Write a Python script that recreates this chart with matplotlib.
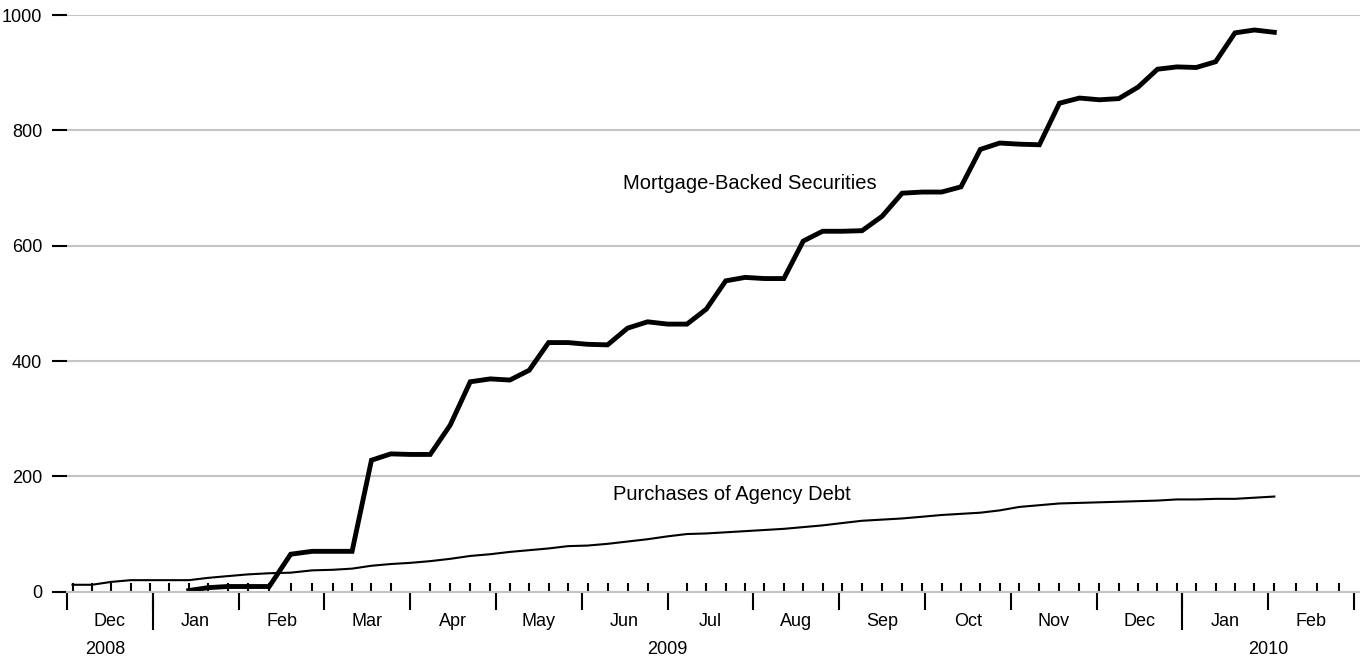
import numpy as np
import pandas as pd
import matplotlib
matplotlib.use('Agg')
import matplotlib.pyplot as plt
from matplotlib.transforms import ScaledTranslation

plt.rcParams['font.family'] = ['Liberation Sans', 'DejaVu Sans']

# weekly (Wednesday) levels, billions of dollars
agency_dates = pd.date_range('2008-12-03', '2010-02-03', freq='W-WED')
agency_debt = [12, 12, 17, 20, 20,
               20, 20, 24, 27, 30, 32, 33, 37, 38, 40, 45, 48,
               50, 53, 57, 62, 65, 69, 72, 75, 79, 80, 83, 87, 91,
               96, 100, 101, 103, 105, 107, 109, 112, 115,
               119, 123, 125, 127, 130, 133, 135, 137, 141,
               147, 150, 153, 154, 155, 156, 157, 158, 160,
               160, 161, 161, 163, 165]

mbs_dates = pd.date_range('2009-01-14', '2010-02-03', freq='W-WED')
mbs = [2, 7, 9, 9, 9, 65, 70, 70, 70, 228, 239,
       238, 238, 289, 364, 369, 367, 384, 432, 432, 429, 428, 457, 468,
       464, 464, 490, 539, 545, 543, 543, 608, 625,
       625, 626, 651, 691, 693, 693, 702, 767, 778,
       776, 775, 847, 856, 853, 855, 875, 906, 910,
       909, 919, 969, 974, 970]

month_names = ['Dec', 'Jan', 'Feb', 'Mar', 'Apr', 'May', 'Jun', 'Jul',
               'Aug', 'Sep', 'Oct', 'Nov', 'Dec', 'Jan', 'Feb']
years = ['2008', '2009', '2010']
year_centers = [0.45, 7, 14]
year_starts = [1, 13]


def month_pos(d):
    # every month gets the same width on this axis
    return (d.year - 2008) * 12 + d.month - 12 + (d.day - 1) / d.days_in_month


xa = [month_pos(d) for d in agency_dates]
xm = [month_pos(d) for d in mbs_dates]
weeks = [month_pos(d) for d in pd.date_range('2008-12-03', '2010-02-24', freq='W-WED')]

fig = plt.figure(figsize=(13.6, 6.58), dpi=100)
ax = fig.add_axes([67 / 1360, (658 - 591.7) / 658, 1293 / 1360, (591.7 - 15) / 658])

ax.plot(xa, agency_debt, color='black', lw=1.5)
ax.plot(xm, mbs, color='black', lw=3.5, solid_joinstyle='miter')

ax.set_xlim(0, 1293 / 85.8)
ax.set_ylim(0, 1000)
ax.set_axisbelow(True)

ax.set_yticks(range(0, 1001, 200))
ax.yaxis.grid(True, color='#c4c4c4', lw=1.5)
ax.tick_params(axis='y', length=10.8, width=1.5, pad=7, labelsize=13)

for s in ['top', 'right', 'left']:
    ax.spines[s].set_visible(False)
ax.spines['bottom'].set_color('#c4c4c4')
ax.spines['bottom'].set_linewidth(1.5)

ax.set_xticks(range(16))
ax.set_xticklabels([])
ax.set_xticks(weeks, minor=True)
ax.tick_params(axis='x', which='major', direction='out', length=13, width=1.5)
ax.tick_params(axis='x', which='minor', direction='in', length=6.5, width=1.5)

sec = ax.secondary_xaxis('bottom')
sec.set_xticks(year_starts)
sec.set_xticklabels([])
sec.tick_params(length=27, width=1.5)
sec.spines['bottom'].set_visible(False)

trans = ax.get_xaxis_transform()
for i, name in enumerate(month_names):
    ax.text(i + 0.5, 0, name, transform=trans + ScaledTranslation(0, -21.5 / 72, fig.dpi_scale_trans),
            ha='center', va='center', fontsize=13)
for c, y in zip(year_centers, years):
    ax.text(c, 0, y, transform=trans + ScaledTranslation(0, -41.5 / 72, fig.dpi_scale_trans),
            ha='center', va='center', fontsize=13)

ax.text(7.96, 707, 'Mortgage-Backed Securities', ha='center', va='center', fontsize=14.5)
ax.text(7.75, 169, 'Purchases of Agency Debt', ha='center', va='center', fontsize=14.5)

fig.savefig('out.png', dpi=100)
